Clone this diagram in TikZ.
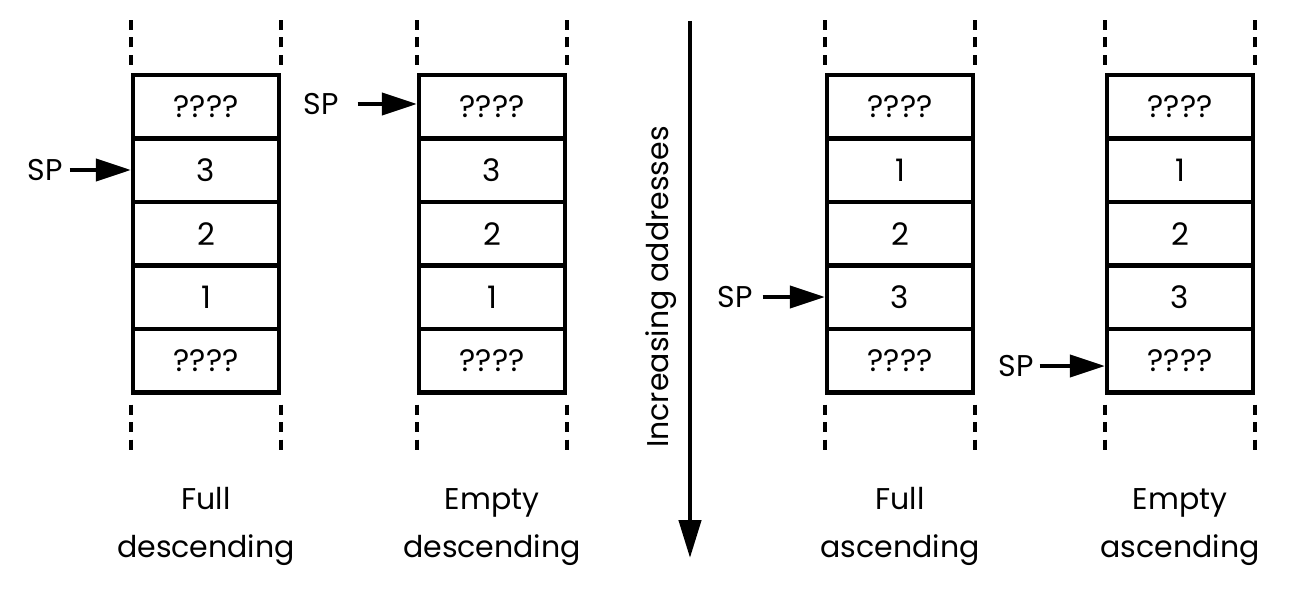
\documentclass[tikz,border=0pt]{standalone}
\usepackage{fontspec}
\setmainfont{Poppins}
\usetikzlibrary{arrows.meta}
\begin{document}
\begin{tikzpicture}[x=1pt,y=-1pt,
  txt/.style={font=\fontsize{30}{38}\selectfont},
  celltxt/.style={font=\fontsize{31}{38}\selectfont},
  cell/.style={draw, line width=4.3pt, minimum width=146pt, minimum height=63.5pt, inner sep=0pt, celltxt},
  dashline/.style={line width=4pt, dash pattern=on 10pt off 7.5pt},
  sparrow/.style={line width=4pt, -{Triangle[length=35pt,width=22pt]}},
  bigarrow/.style={line width=4.5pt, -{Triangle[length=38pt,width=22pt]}},
  sptxt/.style={txt, inner sep=0pt},
  lbl/.style={txt, anchor=base, inner sep=0pt}
]
\useasboundingbox (0,0) rectangle (1294,591);

% stack 1: full descending
\node[cell] (a1) at (206,106.75) {????};
\node[cell] (a2) at (206,170.25) {3};
\node[cell] (a3) at (206,233.75) {2};
\node[cell] (a4) at (206,297.25) {1};
\node[cell] (a5) at (206,360.75) {????};
% stack 2: empty descending
\node[cell] (b1) at (492,106.75) {????};
\node[cell] (b2) at (492,170.25) {3};
\node[cell] (b3) at (492,233.75) {2};
\node[cell] (b4) at (492,297.25) {1};
\node[cell] (b5) at (492,360.75) {????};
% stack 3: full ascending
\node[cell] (c1) at (900,106.75) {????};
\node[cell] (c2) at (900,170.25) {1};
\node[cell] (c3) at (900,233.75) {2};
\node[cell] (c4) at (900,297.25) {3};
\node[cell] (c5) at (900,360.75) {????};
% stack 4: empty ascending
\node[cell] (d1) at (1180,106.75) {????};
\node[cell] (d2) at (1180,170.25) {1};
\node[cell] (d3) at (1180,233.75) {2};
\node[cell] (d4) at (1180,297.25) {3};
\node[cell] (d5) at (1180,360.75) {????};

% dashed continuation lines
\foreach \s in {a,b,c,d}{
  \draw[dashline] (\s1.north west) ++(0,-8) -- ++(0,-45);
  \draw[dashline] (\s1.north east) ++(0,-8) -- ++(0,-45);
  \draw[dashline] (\s5.south west) ++(0,10) -- ++(0,45);
  \draw[dashline] (\s5.south east) ++(0,10) -- ++(0,45);
}

% SP pointers
\node[sptxt] (spa) at (45,170) {SP};
\node[sptxt] (spb) at (321,104) {SP};
\node[sptxt] (spc) at (735,297) {SP};
\node[sptxt] (spd) at (1016,366) {SP};
\draw[sparrow] ([xshift=7pt]spa.east) -- (spa.east -| a2.west);
\draw[sparrow] ([xshift=19pt]spb.east) -- (spb.east -| b1.west);
\draw[sparrow] ([xshift=10pt]spc.east) -- (spc.east -| c4.west);
\draw[sparrow] ([xshift=6pt]spd.east) -- (spd.east -| d5.west);

% labels
\node[lbl] (la1) at (206,509) {Full};
\node[lbl] (la2) at (206,557) {descending};
\node[lbl] (lb1) at (492,509) {Empty};
\node[lbl] (lb2) at (492,557) {descending};
\node[lbl] (lc1) at (900,509) {Full};
\node[lbl] (lc2) at (900,557) {ascending};
\node[lbl] (ld1) at (1180,509) {Empty};
\node[lbl] (ld2) at (1180,557) {ascending};

% address arrow
\coordinate (atop) at (690,21);
\coordinate (abot) at (690,558);
\draw[bigarrow] (atop) -- (abot);
\node[txt, rotate=90, anchor=base, inner sep=0pt] (addr) at (668,287) {Increasing addresses};
\end{tikzpicture}
\end{document}
